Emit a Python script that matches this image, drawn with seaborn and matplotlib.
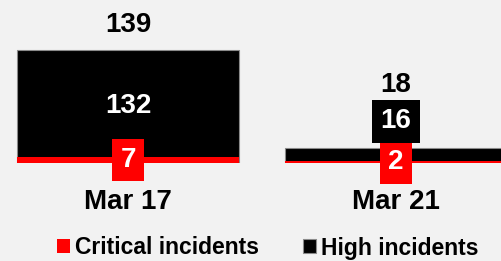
import matplotlib
matplotlib.use("Agg")
import matplotlib.pyplot as plt
import pandas as pd
import seaborn as sns

# data
dates = ["Mar 17", "Mar 21"]
critical = [7, 2]
high = [132, 16]
total = [c + h for c, h in zip(critical, high)]

BG = "#f2f2f2"
sns.set_theme(style="white", rc={"figure.facecolor": BG, "axes.facecolor": BG})
plt.rcParams["font.family"] = ["Liberation Sans", "DejaVu Sans"]

df = pd.DataFrame({"date": dates, "critical": critical, "high": high, "total": total})

fig = plt.figure(figsize=(5.01, 2.61), dpi=100)
ax = fig.add_axes([0, 98 / 261, 1, 163 / 261])

# stacked bars: total (black) first, critical (red) drawn over its base
sns.barplot(data=df, x="date", y="total", color="black", width=0.83, saturation=1,
            edgecolor="#8a8a8a", linewidth=0.8, label="High incidents", ax=ax)
sns.barplot(data=df, x="date", y="critical", color="red", width=0.83, saturation=1,
            linewidth=0, label="Critical incidents", ax=ax)

ax.set_xlim(-0.478, 1.392)
ax.set_ylim(0, 200.5)
sns.despine(ax=ax, left=True, bottom=True)
ax.set_yticks([])
ax.set_xlabel("")
ax.set_ylabel("")
ax.tick_params(axis="x", length=0, pad=19)
for lbl in ax.get_xticklabels():
    lbl.set_fontsize(20)
    lbl.set_fontweight("bold")
    lbl.set_color("black")

pt = 0.72  # points per pixel at dpi 100
txt = dict(ha="center", va="center", fontsize=20, fontweight="bold")
for i in range(len(dates)):
    c, h, t = critical[i], high[i], total[i]
    ax.annotate(str(c), (i, c / 2), color="white",
                bbox=dict(boxstyle="square,pad=0.3", fc="red", ec="none"), **txt)
    seg_px = ax.transData.transform((0, t))[1] - ax.transData.transform((0, c))[1]
    if seg_px > 40:
        ax.annotate(str(h), (i, c + h / 2), xytext=(0, -2 * pt), textcoords="offset points",
                    color="white", **txt)
        ax.annotate(str(t), (i, t), xytext=(0, 25 * pt), textcoords="offset points",
                    color="black", **txt)
    else:
        ax.annotate(str(h), (i, t), xytext=(0, 27 * pt), textcoords="offset points",
                    color="white", bbox=dict(boxstyle="square,pad=0.3", fc="black", ec="none"), **txt)
        ax.annotate(str(t), (i, t), xytext=(0, 63 * pt), textcoords="offset points",
                    color="black", **txt)

handles, labels = ax.get_legend_handles_labels()
if ax.get_legend() is not None:
    ax.get_legend().remove()
fig.legend(handles[::-1], labels[::-1], loc="center", bbox_to_anchor=(268 / 501, 1 - 248 / 261),
           ncol=2, frameon=False, prop=dict(weight="bold", size=16.5), labelcolor="black",
           handlelength=0.55, handleheight=0.55, handletextpad=0.25, columnspacing=1.9)

fig.savefig("out.png", dpi=100, facecolor=BG)
